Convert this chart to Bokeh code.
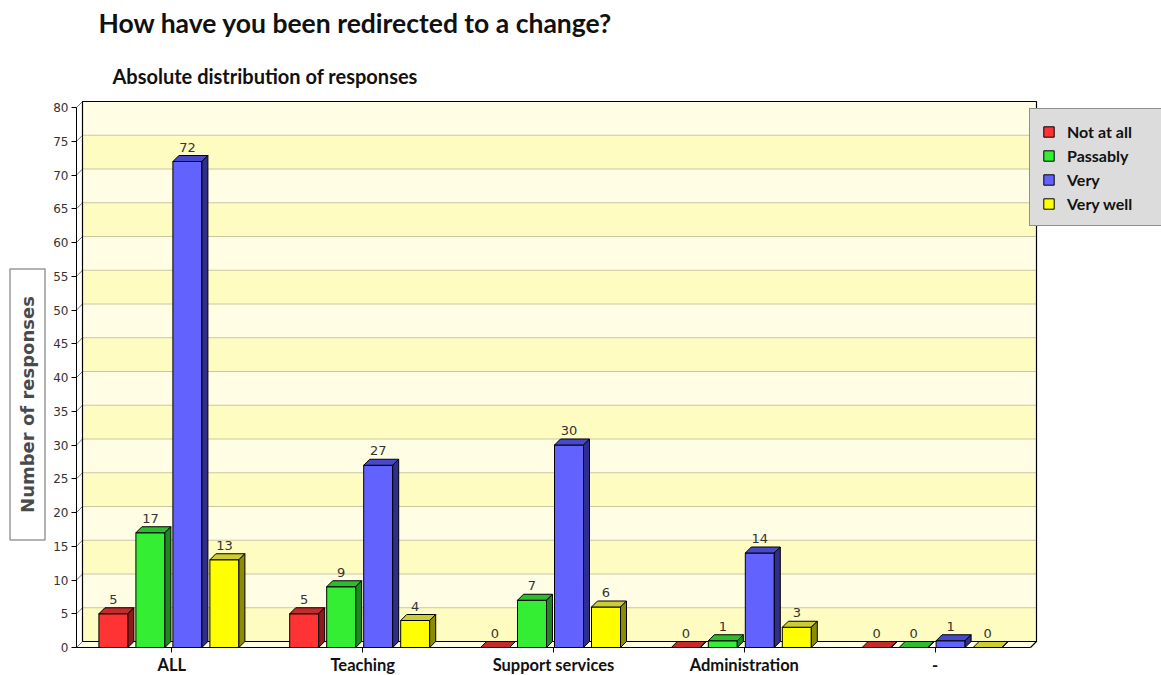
import math
from bokeh.plotting import figure
from bokeh.models import Range1d, FixedTicker, Label, Legend, LegendItem
from bokeh.core.properties import value
from bokeh.embed import file_html
from bokeh.resources import INLINE

# ---- data -------------------------------------------------------------
categories = ["ALL", "Teaching", "Support services", "Administration", "-"]
series_names = ["Not at all", "Passably", "Very", "Very well"]
not_at_all = [5, 5, 0, 0, 0]
passably = [17, 9, 7, 1, 0]
very = [72, 27, 30, 14, 1]
very_well = [13, 4, 6, 3, 0]
series_values = [not_at_all, passably, very, very_well]
y_ticks = list(range(0, 85, 5))

# face colours per series: front, top, side
front_colors = ["#FF3333", "#33EE33", "#6262FF", "#FFFF00"]
top_colors = ["#C42B2B", "#2EBB2E", "#4848CC", "#CCCC33"]
side_colors = ["#8E1B1B", "#1D8A1D", "#2E2E8C", "#8C8C00"]

# ---- layout (pixels) --------------------------------------------------
W, H = 1161, 675
FRAME_L, FRAME_B = 76, 647      # front axis corner on the canvas
PX_X = 190.8                    # pixels per category
PX_Y = 6.75                     # pixels per response
DEPTH = 6                       # 3-D depth offset in pixels
BAR_W, BAR_STEP, GROUP_HALF = 29, 37, 73

n = len(categories)
ymax = y_ticks[-1]
dx = DEPTH / PX_X
dy = DEPTH / PX_Y

x0 = -0.5                       # front-left edge in data units
x1 = n - 0.5                    # front-right edge


def sx(px):
    return x0 + (px - FRAME_L) / PX_X


def sy(py):
    return (FRAME_B - py) / PX_Y


# the plotting frame spans the whole canvas; axes are pinned in place
p = figure(width=W, height=H, output_backend="svg", toolbar_location=None,
           x_range=Range1d(sx(0), sx(W)), y_range=Range1d(sy(H), sy(0)),
           min_border=0)
p.outline_line_color = None
p.background_fill_color = "white"
p.border_fill_color = "white"
p.xgrid.visible = False
p.ygrid.visible = False

# ---- back wall with alternating bands ---------------------------------
band_b = [t + dy for t in y_ticks[:-1]]
band_t = [t + 5 + dy for t in y_ticks[:-1]]
band_c = ["#FFFCC2" if (t // 5) % 2 == 0 else "#FFFEE4" for t in y_ticks[:-1]]
p.quad(left=x0 + dx, right=x1 + dx, bottom=band_b, top=band_t,
       fill_color=band_c, line_color=None)

# floor
p.patch([x0, x1, x1 + dx, x0 + dx], [0, 0, dy, dy],
        fill_color="#FFFEE8", line_color=None)

# grid lines on the wall and the connectors to the front axis
inner = y_ticks[1:-1]
p.segment(x0=[x0 + dx] * len(inner), y0=[t + dy for t in inner],
          x1=[x1 + dx] * len(inner), y1=[t + dy for t in inner],
          line_color="#C9C7A2", line_width=1)
p.segment(x0=[x0] * len(y_ticks), y0=y_ticks,
          x1=[x0 + dx] * len(y_ticks), y1=[t + dy for t in y_ticks],
          line_color="#777777", line_width=1)

# wall edges
p.line([x0 + dx, x0 + dx, x1 + dx, x1 + dx, x1],
       [dy, ymax + dy, ymax + dy, dy, 0], line_color="black", line_width=1.2)
p.line([x0 + dx, x1 + dx], [dy, dy], line_color="black", line_width=1)

# ---- bars ---------------------------------------------------------------
bw = BAR_W / PX_X
front_renderers = []
for j, vals in enumerate(series_values):
    lefts = [i - GROUP_HALF / PX_X + j * BAR_STEP / PX_X for i in range(n)]
    rights = [l + bw for l in lefts]
    r = p.quad(left=lefts, right=rights, bottom=0, top=vals,
               fill_color=front_colors[j], line_color="black", line_width=1)
    front_renderers.append(r)
    p.patches(xs=[[l, l + bw, l + bw + dx, l + dx] for l in lefts],
              ys=[[v, v, v + dy, v + dy] for v in vals],
              fill_color=top_colors[j], line_color="black", line_width=1)
    p.patches(xs=[[l + bw, l + bw + dx, l + bw + dx, l + bw] for l in lefts],
              ys=[[0, dy, v + dy, v] for v in vals],
              fill_color=side_colors[j], line_color="black", line_width=1)
    p.text(x=[l + bw / 2 for l in lefts], y=[v + dy for v in vals],
           text=[str(v) for v in vals], text_align="center",
           text_baseline="bottom", y_offset=-4,
           text_font=value("DejaVu Sans"), text_font_size="13px",
           text_color="#333333")

# ---- axes -----------------------------------------------------------------
ya = p.yaxis[0]
ya.fixed_location = x0
ya.ticker = FixedTicker(ticks=y_ticks)
ya.bounds = (0, ymax)
ya.axis_line_color = "black"
ya.major_tick_line_color = "black"
ya.major_tick_out = 5
ya.major_tick_in = 0
ya.minor_tick_line_color = None
ya.major_label_standoff = 3
ya.major_label_text_font = "DejaVu Sans"
ya.major_label_text_font_size = "12px"
ya.major_label_text_color = "#333333"

xa = p.xaxis[0]
xa.fixed_location = 0
xa.ticker = FixedTicker(ticks=list(range(n)))
xa.major_label_overrides = {i: c for i, c in enumerate(categories)}
xa.bounds = (x0, x1)
xa.axis_line_color = "black"
xa.major_tick_line_color = "black"
xa.major_tick_out = 5
xa.major_tick_in = 0
xa.minor_tick_line_color = None
xa.major_label_standoff = 2
xa.major_label_text_font = "Lato"
xa.major_label_text_font_style = "bold"
xa.major_label_text_font_size = "16.5px"
xa.major_label_text_color = "#111111"

# ---- titles ---------------------------------------------------------------
p.add_layout(Label(x=sx(98), y=sy(22), text="How have you been redirected to a change?",
                   text_baseline="middle", text_font="Lato", text_font_style="bold",
                   text_font_size="26.5px", text_color="#111111"))
p.add_layout(Label(x=sx(112), y=sy(75), text="Absolute distribution of responses",
                   text_baseline="middle", text_font="Lato", text_font_style="bold",
                   text_font_size="20px", text_color="#111111"))
p.add_layout(Label(x=sx(27), y=sy(404), text="Number of responses",
                   angle=math.pi / 2, text_align="center", text_baseline="middle",
                   text_font="DejaVu Sans", text_font_style="bold",
                   text_font_size="18px", text_color="#4A4A4A",
                   border_line_color="#9A9A9A", border_line_width=1.5,
                   background_fill_color="white", padding=(27, 7)))

# ---- legend ---------------------------------------------------------------
legend = Legend(items=[LegendItem(label=s, renderers=[front_renderers[j]])
                       for j, s in enumerate(series_names)],
                location=(1029, H - 226),
                border_line_color="#444444", border_line_width=1.5,
                background_fill_color="#DCDCDC", background_fill_alpha=1,
                label_text_font="Lato", label_text_font_style="bold",
                label_text_font_size="16px", label_text_color="#111111",
                glyph_width=13, glyph_height=13, label_standoff=12,
                spacing=4, padding=12, margin=0, label_height=20,
                label_width=110)
p.add_layout(legend)

open("out.html", "w").write(file_html(p, INLINE))
